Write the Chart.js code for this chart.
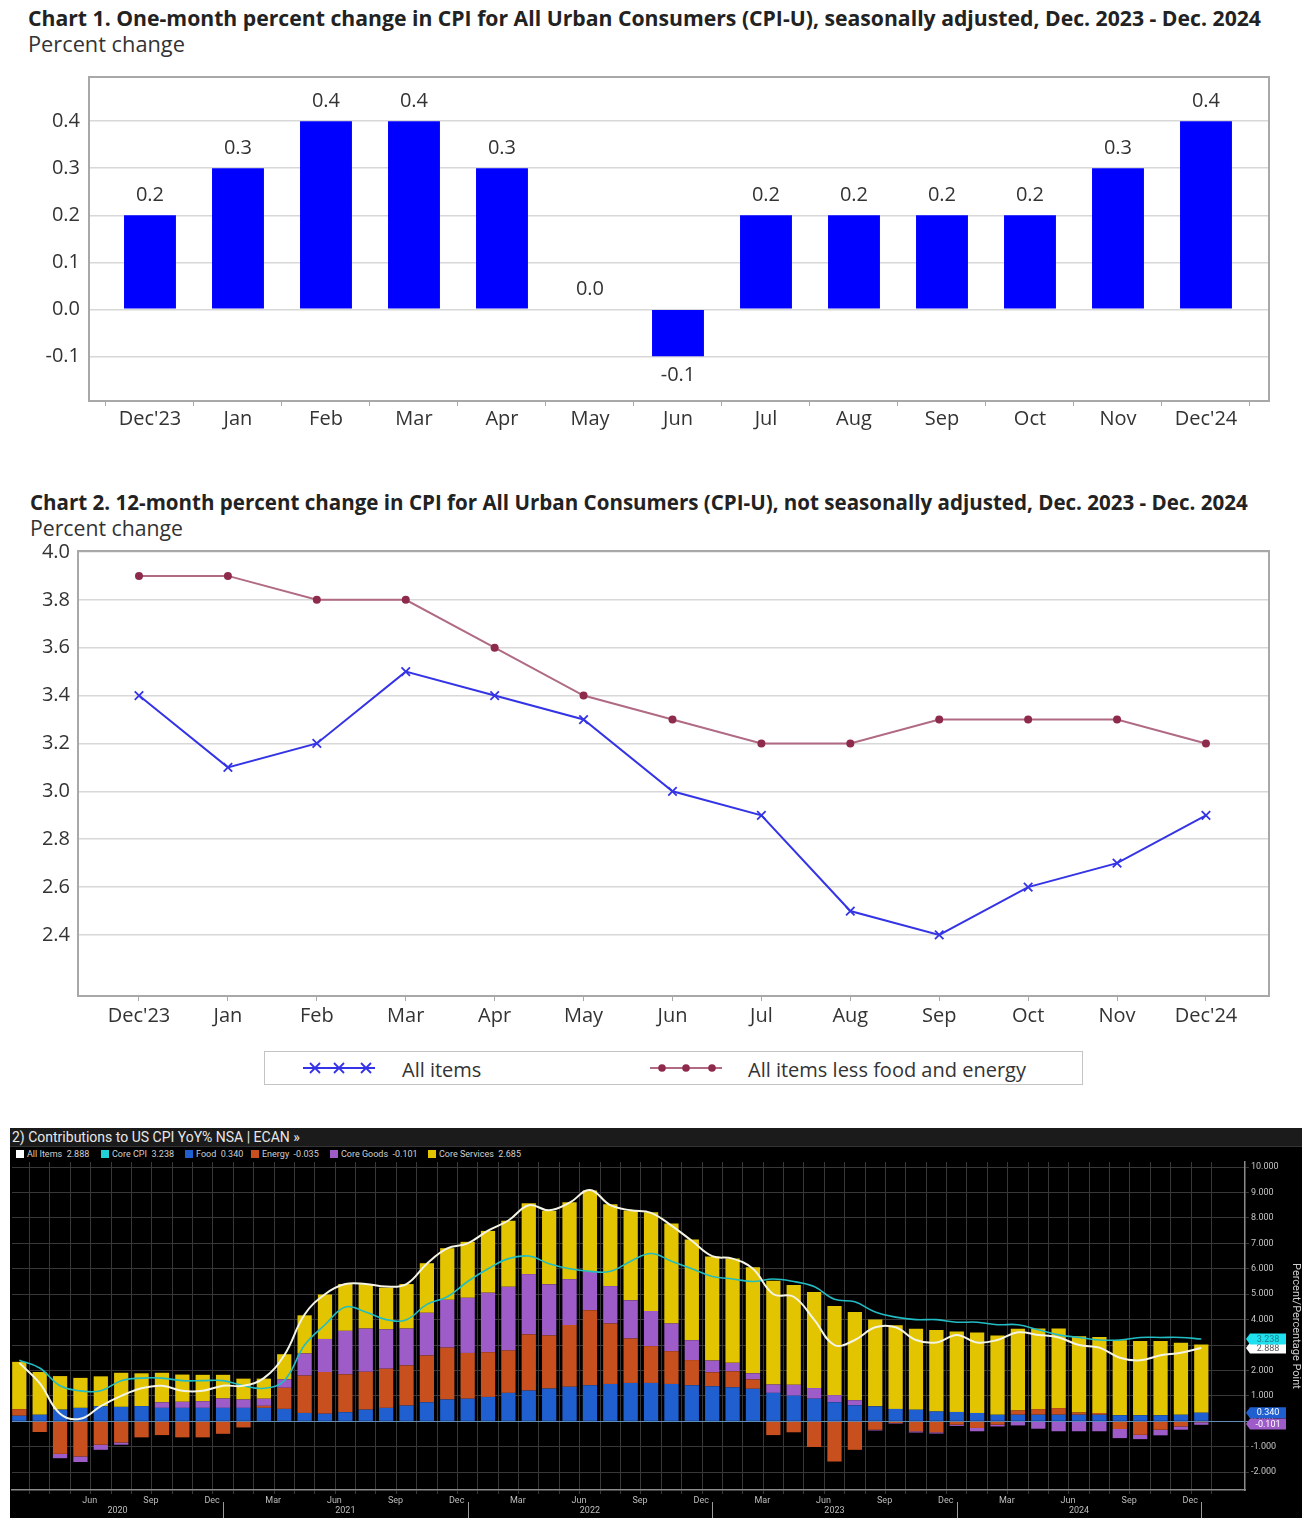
<!DOCTYPE html>
<html><head><meta charset="utf-8">
<script src="https://cdn.jsdelivr.net/npm/chart.js@4.4.1/dist/chart.umd.min.js"></script>
<style>
html,body{margin:0;padding:0;background:#fff}
body{width:1312px;height:1525px;position:relative;overflow:hidden;font-family:"Open Sans",sans-serif;color:#333}
.t{position:absolute;white-space:nowrap;line-height:1.2}
.box{position:absolute}
#c3wrap{position:absolute;left:10px;top:1128px;width:1292px;height:390px;background:#000;overflow:hidden}
#c3head{position:absolute;left:0;top:0;width:1292px;height:18px;background:#1b1b1b;color:#e8e8e8;font:14px Roboto,sans-serif;line-height:18px;padding-left:2px;border-bottom:1px solid #333}
.lg{position:absolute;top:21px;font:9px Roboto,sans-serif;color:#d0d0d0;white-space:nowrap;line-height:10px}
.lg i{display:inline-block;width:8px;height:8px;margin-right:3px;vertical-align:-1px}
#leg2{position:absolute;left:264px;top:1051px;width:817px;height:32px;border:1.5px solid #c4c4c4;background:#fff}
.l2t{position:absolute;top:1056px;font-size:20px;color:#333;white-space:nowrap}
</style></head><body>

<div class="t" id="t1" style="font-weight:700;color:#222">Chart 1. One-month percent change in CPI for All Urban Consumers (CPI-U), seasonally adjusted, Dec. 2023 - Dec. 2024</div>
<div class="t" id="s1">Percent change</div>
<div class="box" style="left:0;top:60px;width:1312px;height:381px"><canvas id="c1"></canvas></div>

<div class="t" id="t2" style="font-weight:700;color:#222">Chart 2. 12-month percent change in CPI for All Urban Consumers (CPI-U), not seasonally adjusted, Dec. 2023 - Dec. 2024</div>
<div class="t" id="s2">Percent change</div>
<div class="box" style="left:0;top:540px;width:1312px;height:496px"><canvas id="c2"></canvas></div>

<div id="leg2"></div>
<svg class="box" style="left:298px;top:1058px" width="84" height="20">
  <line x1="5" y1="10" x2="77" y2="10" stroke="#3434e6" stroke-width="2"/>
  <g stroke="#3434e6" stroke-width="1.8">
    <path d="M12 5 L22 15 M22 5 L12 15"/><path d="M36 5 L46 15 M46 5 L36 15"/><path d="M63 5 L73 15 M73 5 L63 15"/>
  </g>
</svg>
<div class="l2t" style="left:402px">All items</div>
<svg class="box" style="left:646px;top:1058px" width="84" height="20">
  <line x1="4" y1="10" x2="76" y2="10" stroke="#b06a84" stroke-width="2"/>
  <g fill="#8e2a4c"><circle cx="16" cy="10" r="3.8"/><circle cx="40" cy="10" r="3.8"/><circle cx="66" cy="10" r="3.8"/></g>
</svg>
<div class="l2t" style="left:748px">All items less food and energy</div>

<div id="c3wrap">
  <div id="c3head">2) Contributions to US CPI YoY% NSA | ECAN »</div>
  <div class="lg" style="left:6px"><i style="background:#ffffff"></i>All Items&nbsp; 2.888</div>
  <div class="lg" style="left:91px"><i style="background:#22d0d8"></i>Core CPI&nbsp; 3.238</div>
  <div class="lg" style="left:175px"><i style="background:#1f5fd0"></i>Food&nbsp; 0.340</div>
  <div class="lg" style="left:241px"><i style="background:#c8501e"></i>Energy&nbsp; -0.035</div>
  <div class="lg" style="left:320px"><i style="background:#9d5cc8"></i>Core Goods&nbsp; -0.101</div>
  <div class="lg" style="left:418px"><i style="background:#e2c400"></i>Core Services&nbsp; 2.685</div>
  <div class="box" style="left:0;top:32px;width:1292px;height:358px"><canvas id="c3"></canvas></div>
</div>

<script>
// ---------- DATA ----------
const months13 = ["Dec'23","Jan","Feb","Mar","Apr","May","Jun","Jul","Aug","Sep","Oct","Nov","Dec'24"];
const monthlyChange = [0.2,0.3,0.4,0.4,0.3,0.0,-0.1,0.2,0.2,0.2,0.2,0.3,0.4];
const yTicks1 = [-0.1,0.0,0.1,0.2,0.3,0.4];

const allItems12m = [3.4,3.1,3.2,3.5,3.4,3.3,3.0,2.9,2.5,2.4,2.6,2.7,2.9];
const coreItems12m = [3.9,3.9,3.8,3.8,3.6,3.4,3.3,3.2,3.2,3.3,3.3,3.3,3.2];
const yTicks2 = [2.4,2.6,2.8,3.0,3.2,3.4,3.6,3.8,4.0];

// Chart 3: monthly, Feb 2020 - Dec 2024
const monthNames = ["Jan","Feb","Mar","Apr","May","Jun","Jul","Aug","Sep","Oct","Nov","Dec"];
const shownMonths3 = ["Mar","Jun","Sep","Dec"];
const years3 = [2020,2021,2022,2023,2024];
const food3 = [0.22,0.26,0.46,0.53,0.59,0.57,0.6,0.53,0.53,0.53,0.53,0.53,0.53,0.49,0.33,0.30,0.36,0.46,0.53,0.62,0.75,0.86,0.89,0.96,1.12,1.21,1.29,1.36,1.42,1.47,1.51,1.51,1.47,1.42,1.38,1.34,1.28,1.12,1.01,0.89,0.75,0.63,0.59,0.49,0.46,0.39,0.37,0.33,0.26,0.26,0.26,0.26,0.26,0.26,0.24,0.24,0.24,0.26,0.34];
const energy3 = [0.26,-0.42,-1.28,-1.38,-0.92,-0.83,-0.63,-0.54,-0.63,-0.63,-0.49,-0.24,0.08,0.83,1.47,1.64,1.49,1.49,1.54,1.58,1.84,2.04,1.80,1.76,1.67,2.21,2.09,2.43,2.95,2.38,1.75,1.45,1.29,0.99,0.55,0.63,0.37,-0.54,-0.43,-1.01,-1.58,-1.12,-0.33,-0.07,-0.39,-0.43,-0.13,-0.26,-0.13,0.17,0.22,0.26,0.09,0.07,-0.30,-0.53,-0.33,-0.20,-0.035];
const coreGoods3 = [0,0,-0.17,-0.22,-0.20,-0.09,0,0.22,0.24,0.26,0.37,0.33,0.28,0.33,0.87,1.30,1.71,1.70,1.55,1.45,1.68,1.88,2.17,2.34,2.50,2.37,2.01,1.80,1.51,1.47,1.50,1.38,1.09,0.78,0.46,0.33,0.24,0.33,0.43,0.42,0.28,0.20,-0.03,-0.02,-0.05,-0.05,-0.05,-0.13,-0.07,-0.16,-0.29,-0.39,-0.39,-0.39,-0.36,-0.17,-0.22,-0.13,-0.101];
const coreServices3 = [1.86,1.68,1.32,1.18,1.18,1.34,1.29,1.16,1.07,1.04,0.93,0.82,0.79,0.99,1.50,1.75,1.84,1.75,1.64,1.75,1.95,2.03,2.20,2.43,2.60,2.79,2.89,3.03,3.20,3.22,3.53,3.88,3.93,3.96,4.09,4.10,4.17,4.08,3.92,3.78,3.51,3.47,3.42,3.29,3.18,3.20,3.16,3.16,3.12,3.21,3.17,3.13,3.00,2.99,2.95,2.92,2.92,2.83,2.685];
const allItems3 = [2.3,1.5,0.3,0.1,0.6,1.0,1.3,1.4,1.2,1.2,1.4,1.4,1.7,2.6,4.2,5.0,5.4,5.4,5.3,5.4,6.2,6.8,7.0,7.5,7.9,8.5,8.3,8.6,9.1,8.5,8.3,8.2,7.7,7.1,6.5,6.4,6.0,5.0,4.9,4.0,3.0,3.2,3.7,3.7,3.2,3.1,3.4,3.1,3.2,3.5,3.4,3.3,3.0,2.9,2.5,2.4,2.6,2.7,2.888];
const coreCPI3 = [2.4,2.1,1.4,1.2,1.2,1.6,1.7,1.7,1.6,1.6,1.6,1.4,1.3,1.6,3.0,3.8,4.5,4.3,4.0,4.0,4.6,4.9,5.5,6.0,6.4,6.5,6.2,6.0,5.9,5.9,6.3,6.6,6.3,6.0,5.7,5.6,5.5,5.6,5.5,5.3,4.8,4.7,4.3,4.1,4.0,4.0,3.9,3.9,3.8,3.8,3.6,3.4,3.3,3.2,3.2,3.3,3.3,3.3,3.238];
const yTicks3 = [-2,-1,0,1,2,3,4,5,6,7,8,9,10];
const tags3 = [
  {v:2.888, txt:"2.888", bg:"#ffffff", fg:"#555"},
  {v:3.238, txt:"3.238", bg:"#1ee0ee", fg:"#1a7f8a"},
  {v:0.340, txt:"0.340", bg:"#1f5fd0", fg:"#ffffff"},
  {v:-0.101, txt:"-0.101", bg:"#9d5cc8", fg:"#ffffff"}
];
const startMonthIdx3 = 1; // Feb
const startYear3 = 2020;

// ---------- text fitting ----------
function place(id, x, cy, w, size){
  const el = document.getElementById(id);
  el.style.fontSize = size + 'px';
  el.style.left = x + 'px';
  const cw = el.getBoundingClientRect().width;
  el.style.fontSize = (size * w / cw) + 'px';
  const h = el.getBoundingClientRect().height;
  el.style.top = (cy - h/2) + 'px';
}
place('t1', 28, 18, 1234, 19);
place('s1', 28, 44, 157, 20);
place('t2', 30, 502, 1219, 19);
place('s2', 30, 528, 153, 20);

Chart.defaults.font.family = '"Open Sans", sans-serif';
Chart.defaults.animation = false;
Chart.defaults.plugins.legend.display = false;
Chart.defaults.plugins.tooltip.enabled = false;

function noPad(a){ a.paddingTop = 0; a.paddingBottom = 0; a.paddingLeft = 0; a.paddingRight = 0; }

const framePlugin = {
  id:'frame',
  afterDatasetsDraw(chart){
    const {ctx, chartArea:a} = chart;
    ctx.save(); ctx.strokeStyle = '#a8a8a8'; ctx.lineWidth = 2;
    ctx.strokeRect(a.left, a.top, a.right-a.left, a.bottom-a.top);
    ctx.restore();
  }
};

// ---------- Chart 1 ----------
const labelPlugin1 = {
  id:'lbl1',
  afterDatasetsDraw(chart){
    const {ctx} = chart;
    const meta = chart.getDatasetMeta(0);
    ctx.save();
    ctx.font = '20px "Open Sans", sans-serif';
    ctx.fillStyle = '#333'; ctx.textAlign = 'center'; ctx.textBaseline = 'middle';
    meta.data.forEach((el, i) => {
      const v = monthlyChange[i];
      const y = v < 0 ? el.y + 19 : el.y - 20;
      ctx.fillText(v.toFixed(1), el.x, y);
    });
    ctx.restore();
  }
};
new Chart(document.getElementById('c1'), {
  type:'bar',
  data:{datasets:[{data: monthlyChange.map((v,i)=>({x:i,y:v})), backgroundColor:'#0000ff', barPercentage:0.59, categoryPercentage:1}]},
  options:{
    responsive:true, maintainAspectRatio:false,
    layout:{padding:{left:29,right:43,top:17,bottom:0}},
    scales:{
      x:{type:'linear', offset:false, min:-0.693, max:12.716,
         afterBuildTicks:a=>{a.ticks = months13.map((_,i)=>({value:i}));},
         afterFit:a=>{a.height=40; noPad(a);},
         ticks:{callback:v=>months13[v], autoSkip:false, maxRotation:0, font:{size:20}, color:'#333', padding:1},
         grid:{drawOnChartArea:false, drawTicks:true, tickLength:5, color:'#a8a8a8'},
         border:{display:false}},
      y:{min:-0.195, max:0.494,
         afterBuildTicks:a=>{a.ticks = yTicks1.map(v=>({value:v}));},
         afterFit:a=>{a.width=60; noPad(a);},
         ticks:{callback:v=>v.toFixed(1), font:{size:20}, color:'#333', padding:9},
         grid:{color:'#d8d8d8', lineWidth:1.5, drawTicks:false},
         border:{display:false}}
    }
  },
  plugins:[framePlugin, labelPlugin1]
});

// ---------- Chart 2 ----------
new Chart(document.getElementById('c2'), {
  type:'line',
  data:{datasets:[
    {data: allItems12m.map((v,i)=>({x:i,y:v})), borderColor:'#3434e6', borderWidth:2, pointStyle:'crossRot', pointRadius:6, pointBorderColor:'#3434e6', pointBorderWidth:1.8, tension:0},
    {data: coreItems12m.map((v,i)=>({x:i,y:v})), borderColor:'#b06a84', borderWidth:2, pointStyle:'circle', pointRadius:4, pointBackgroundColor:'#8e2a4c', pointBorderColor:'#8e2a4c', pointBorderWidth:0, tension:0}
  ]},
  options:{
    responsive:true, maintainAspectRatio:false,
    layout:{padding:{left:18,right:43,top:11,bottom:0}},
    scales:{
      x:{type:'linear', offset:false, min:-0.686, max:12.709,
         afterBuildTicks:a=>{a.ticks = months13.map((_,i)=>({value:i}));},
         afterFit:a=>{a.height=40; noPad(a);},
         ticks:{callback:v=>months13[v], autoSkip:false, maxRotation:0, font:{size:20}, color:'#333', padding:3},
         grid:{drawOnChartArea:false, drawTicks:true, tickLength:5, color:'#a8a8a8'},
         border:{display:false}},
      y:{min:2.145, max:4.004,
         afterBuildTicks:a=>{a.ticks = yTicks2.map(v=>({value:v}));},
         afterFit:a=>{a.width=60; noPad(a);},
         ticks:{callback:v=>v.toFixed(1), font:{size:20}, color:'#333', padding:8},
         grid:{color:'#d8d8d8', lineWidth:1.5, drawTicks:false},
         border:{display:false}}
    }
  },
  plugins:[framePlugin]
});

// ---------- Chart 3 ----------
const n3 = food3.length;
function monthOf(i){ return (startMonthIdx3 + i) % 12; }
function yearOf(i){ return startYear3 + Math.floor((startMonthIdx3 + i) / 12); }
const xy = arr => arr.map((v,i)=>({x:i,y:v}));

const extras3 = {
  id:'extras3',
  afterDraw(chart){
    const {ctx, chartArea:a, scales:{x, y}} = chart;
    ctx.save();
    ctx.font = '9px Roboto, sans-serif'; ctx.fillStyle = '#bdbdbd';
    ctx.textAlign = 'center'; ctx.textBaseline = 'middle';
    ctx.strokeStyle = '#9a9a9a'; ctx.lineWidth = 1;
    years3.forEach(yr => {
      let first = -1, last = -1;
      for (let i=0;i<n3;i++){ if (yearOf(i)===yr){ if(first<0) first=i; last=i; } }
      const left = first === 0 ? a.left : x.getPixelForValue(first-1);
      const right = x.getPixelForValue(last);
      ctx.fillText(String(yr), (left+right)/2, a.bottom + 21);
      ctx.beginPath(); ctx.moveTo(Math.round(right)+0.5, a.bottom + 12); ctx.lineTo(Math.round(right)+0.5, a.bottom + 28); ctx.stroke();
    });
    ctx.font = '9px Roboto, sans-serif'; ctx.textAlign = 'center';
    tags3.forEach(t => {
      const py = y.getPixelForValue(t.v);
      const x0 = a.right + 1, w = 40, h = 11;
      ctx.fillStyle = t.bg;
      ctx.beginPath();
      ctx.moveTo(x0, py); ctx.lineTo(x0+4, py-h/2); ctx.lineTo(x0+w, py-h/2);
      ctx.lineTo(x0+w, py+h/2); ctx.lineTo(x0+4, py+h/2); ctx.closePath(); ctx.fill();
      ctx.fillStyle = t.fg;
      ctx.fillText(t.txt, x0 + w/2 + 2, py + 0.5);
    });
    ctx.restore();
  }
};

new Chart(document.getElementById('c3'), {
  data:{datasets:[
    {type:'line', label:'All Items', data:xy(allItems3), borderColor:'#f4f4e6', borderWidth:2, pointRadius:0, tension:0.4, stack:'l1', order:0},
    {type:'line', label:'Core CPI', data:xy(coreCPI3), borderColor:'#22bcc4', borderWidth:1.6, pointRadius:0, tension:0.4, stack:'l2', order:0},
    {type:'bar', label:'Food', data:xy(food3), backgroundColor:'#1f5fd0', stack:'b', order:1, barPercentage:0.7, categoryPercentage:1},
    {type:'bar', label:'Energy', data:xy(energy3), backgroundColor:'#c8501e', stack:'b', order:1, barPercentage:0.7, categoryPercentage:1},
    {type:'bar', label:'Core Goods', data:xy(coreGoods3), backgroundColor:'#9d5cc8', stack:'b', order:1, barPercentage:0.7, categoryPercentage:1},
    {type:'bar', label:'Core Services', data:xy(coreServices3), backgroundColor:'#e2c400', stack:'b', order:1, barPercentage:0.7, categoryPercentage:1}
  ]},
  options:{
    responsive:true, maintainAspectRatio:false,
    layout:{padding:{left:2,right:0,top:2,bottom:0}},
    scales:{
      x:{type:'linear', offset:false, stacked:true, min:-0.358, max:60.144,
         afterBuildTicks:a=>{a.ticks = food3.map((_,i)=>({value:i}));},
         afterFit:a=>{a.height=28; noPad(a);},
         ticks:{callback:v=>{ const m = monthNames[monthOf(v)]; return (v>=3 && shownMonths3.includes(m)) ? m : ''; },
                autoSkip:false, maxRotation:0, font:{size:9, family:'Roboto, sans-serif'}, color:'#bdbdbd', padding:1, labelOffset:-11},
         grid:{color:'#383838', lineWidth:1, drawTicks:true, tickLength:4},
         border:{display:true, color:'#8a8a8a', width:1.5}},
      y:{position:'right', stacked:true, min:-2.7, max:10.2,
         afterBuildTicks:a=>{a.ticks = yTicks3.map(v=>({value:v}));},
         afterFit:a=>{a.width=57; noPad(a);},
         ticks:{callback:v=>v.toFixed(3), font:{size:9, family:'Roboto, sans-serif'}, color:'#c4c4c4', padding:2},
         grid:{color:c=> c.tick && c.tick.value===0 ? '#5f8fb8' : '#383838', lineWidth:1, drawTicks:true, tickLength:4},
         border:{display:true, color:'#8a8a8a', width:1.5},
         title:{display:true, text:'Percent/Percentage Point', color:'#d0d0d0', font:{size:11, family:'Roboto, sans-serif'}, padding:{top:0,bottom:2}}}
    }
  },
  plugins:[extras3]
});
</script>
</body></html>
